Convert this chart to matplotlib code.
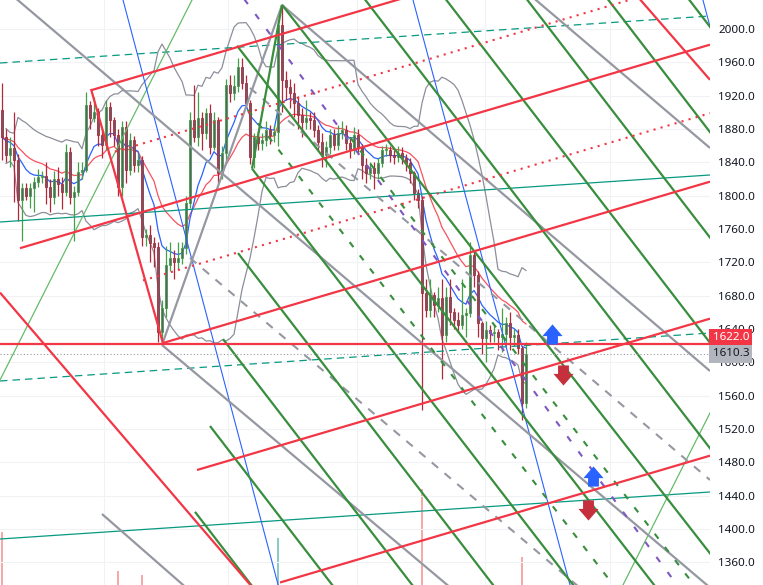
import matplotlib

matplotlib.use("Agg")
import matplotlib.pyplot as plt
import matplotlib.transforms as mtransforms
import numpy as np
import pandas as pd
from matplotlib.path import Path
from matplotlib.patches import Rectangle

# ---- candles (one entry per bar) ----
closes = [
    1870, 1849, 1857, 1843, 1795, 1809, 1800, 1809, 1816, 1822,
    1824, 1810, 1798, 1820, 1814, 1804, 1852, 1798, 1804, 1828,
    1831, 1909, 1893, 1900, 1873, 1861, 1906, 1891, 1873, 1810,
    1882, 1831, 1867, 1837, 1843, 1750, 1753, 1743, 1738, 1636,
    1665, 1717, 1725, 1720, 1725, 1737, 1791, 1891, 1870, 1893,
    1875, 1899, 1858, 1891, 1827, 1851, 1933, 1923, 1932, 1954,
    1935, 1911, 1846, 1870, 1863, 1867, 1879, 1873, 1876, 2005,
    1939, 1930, 1923, 1911, 1897, 1888, 1893, 1891, 1879, 1864,
    1849, 1858, 1873, 1861, 1875, 1879, 1863, 1855, 1873, 1858,
    1837, 1827, 1833, 1827, 1839, 1855, 1855, 1849, 1846, 1851,
    1845, 1839, 1827, 1803, 1795, 1683, 1663, 1681, 1669, 1677,
    1633, 1678, 1660, 1651, 1645, 1657, 1659, 1729, 1705, 1647,
    1629, 1639, 1635, 1636, 1630, 1634, 1647, 1630, 1633, 1617,
    1551, 1610.3,
]
highs = [
    1935, 1880, 1870, 1900, 1850, 1815, 1815, 1815, 1822, 1832,
    1830, 1840, 1820, 1830, 1835, 1822, 1862, 1858, 1812, 1840,
    1840, 1925, 1914, 1918, 1905, 1880, 1915, 1912, 1895, 1880,
    1890, 1890, 1875, 1872, 1850, 1848, 1760, 1765, 1750, 1745,
    1675, 1740, 1745, 1735, 1745, 1745, 1800, 1900, 1933, 1925,
    1900, 1905, 1910, 1900, 1895, 1860, 1940, 1945, 1945, 1965,
    1965, 1945, 1915, 1875, 1878, 1875, 1890, 1885, 1885, 2010,
    2029, 1950, 1940, 1935, 1920, 1905, 1915, 1900, 1900, 1885,
    1875, 1866, 1880, 1880, 1885, 1890, 1885, 1870, 1882, 1880,
    1862, 1845, 1840, 1840, 1845, 1860, 1862, 1860, 1855, 1860,
    1858, 1850, 1845, 1830, 1808, 1800, 1700, 1700, 1685, 1690,
    1700, 1690, 1700, 1665, 1660, 1700, 1665, 1745, 1735, 1710,
    1650, 1650, 1645, 1645, 1640, 1665, 1655, 1660, 1640, 1640,
    1620, 1625,
]
lows = [
    1843, 1840, 1835, 1792, 1770, 1746, 1795, 1785, 1780, 1810,
    1815, 1790, 1780, 1790, 1800, 1784, 1800, 1790, 1746, 1800,
    1820, 1828, 1880, 1888, 1860, 1845, 1855, 1870, 1860, 1800,
    1800, 1815, 1825, 1828, 1828, 1740, 1740, 1720, 1715, 1625,
    1621, 1655, 1710, 1700, 1712, 1718, 1730, 1785, 1865, 1860,
    1855, 1868, 1850, 1855, 1815, 1820, 1840, 1912, 1915, 1925,
    1928, 1905, 1838, 1833, 1855, 1855, 1860, 1862, 1865, 1860,
    1900, 1915, 1905, 1895, 1880, 1870, 1880, 1880, 1870, 1855,
    1835, 1835, 1850, 1855, 1855, 1868, 1855, 1845, 1850, 1850,
    1820, 1815, 1820, 1808, 1820, 1835, 1848, 1840, 1838, 1840,
    1838, 1830, 1815, 1795, 1785, 1543, 1655, 1655, 1655, 1660,
    1580, 1625, 1645, 1640, 1635, 1640, 1630, 1655, 1690, 1630,
    1610, 1600, 1625, 1625, 1615, 1612, 1620, 1615, 1620, 1610,
    1531, 1545,
]
opens = [1903] + closes[:-1]
volumes = [
    98, 30, 22, 35, 38, 30, 18, 20, 22, 16,
    14, 24, 26, 22, 18, 20, 34, 30, 26, 24,
    18, 40, 28, 22, 26, 24, 36, 28, 30, 59,
    38, 34, 26, 24, 20, 55, 22, 24, 26, 44,
    36, 30, 20, 16, 18, 22, 34, 42, 30, 28,
    24, 26, 28, 30, 34, 26, 38, 24, 22, 30,
    28, 26, 36, 30, 20, 18, 22, 20, 18, 92,
    44, 30, 26, 24, 26, 22, 18, 16, 20, 24,
    26, 22, 24, 20, 22, 18, 24, 22, 26, 24,
    28, 26, 20, 22, 20, 24, 18, 20, 18, 16,
    18, 20, 24, 34, 30, 141, 40, 34, 28, 26,
    38, 34, 28, 24, 22, 24, 20, 40, 34, 36,
    30, 26, 20, 18, 18, 24, 22, 24, 20, 30,
    73, 40,
]

# ---- drawing tools: segments as ((bar, price), (bar, price)) ----
red_solid = [
    ((22.25, 1926.5), (177, 2145.6)),
    ((4.5, 1737.0), (177, 1981.2)),
    ((40.25, 1623.2), (177, 1816.8)),
    ((48.75, 1470.8), (177, 1652.4)),
    ((69.5, 1335.8), (177, 1488.0)),
    ((22.25, 1928.0), (40.25, 1623.0)),
    ((-0.5, 1683.7), (62.1, 1332.8)),
    ((150, 2088.0), (177, 1939.0)),
]
red_dotted = [
    ((26.5, 1850.3), (177, 2063.4)),
    ((35.25, 1698.3), (177, 1899.0)),
]
green_solid = [
    ((48.25, 1420.6), (69.05, 1290.8)),
    ((52.0, 1523.6), (89.3, 1290.8)),
    ((55.25, 1627.9), (109.3, 1290.8)),
    ((59.0, 1731.1), (129.5, 1290.8)),
    ((62.5, 1832.4), (149.55, 1290.8)),
    ((58.75, 1980.0), (169.8, 1290.8)),
    ((70.0, 2029.0), (190.0, 1290.8)),
    ((87.0, 2058.8), (210.0, 1290.8)),
    ((107.25, 2058.8), (230.3, 1290.8)),
    ((127.5, 2058.8), (250.5, 1290.8)),
    ((147.75, 2058.8), (270.8, 1290.8)),
    ((168.0, 2058.8), (291.0, 1290.8)),
    ((62.5, 1832.4), (70.0, 2029.0)),
]
green_dashed = [
    ((61.5, 1902.8), (159.55, 1290.8)),
    ((87.0, 1870.0), (179.75, 1290.8)),
]
purple_dashed = [
    ((59.8, 2040.8), (171.55, 1314.8)),
]
grey_solid = [
    ((120, 2089.8), (177, 1857.2)),
    ((70, 2028.8), (177, 1589.6)),
    ((-0.5, 2052.8), (180, 1317.5)),
    ((40, 1620.8), (115, 1318.0)),
    ((25, 1418.0), (50, 1313.0)),
    ((40, 1620.8), (70, 2028.8)),
]
grey_dashed = [
    ((47, 1725.2), (154, 1290.8)),
    ((62, 1929.2), (177, 1458.8)),
]
blue_thin = [
    ((29.5, 2048.4), (69.5, 1324.4)),
    ((102.0, 2048.2), (142.5, 1323.9)),
    ((174.5, 2048.0), (178.0, 1985.0)),
]
lightgreen_thin = [
    ((48.5, 2044.3), (-1.0, 1574.0)),
    ((178.0, 1548.7), (154.0, 1321.0)),
]
teal_solid = [
    ((-0.5, 1768.4), (177, 1824.8)),
    ((-0.5, 1388.0), (177, 1444.4)),
]
teal_dashed = [
    ((-0.5, 1959.2), (177, 2015.6)),
    ((-0.5, 1577.6), (177, 1635.2)),
]
level_price = 1622.0
last_price = 1610.3

# arrows (bar, price)
up_arrows = [(137.4, 1634.6), (147.75, 1463.6)]
down_arrows = [(140.25, 1584.8), (146.5, 1422.8)]

price_ticks = [1360, 1400, 1440, 1480, 1520, 1560, 1600, 1640, 1680,
               1720, 1760, 1800, 1840, 1880, 1920, 1960, 2000]
time_grid = [25.5, 56.5, 88.75, 120.75, 152.0]

RED = "#f23645"
GREEN = "#388e3c"
GREY = "#9598a1"
C_UP = "#43a047"
C_DN = "#b2283a"

fig = plt.figure(figsize=(7.63, 5.85), dpi=100)
fig.patch.set_facecolor("white")
vax = fig.add_axes([0, 0, 710 / 763, 1])
ax = fig.add_axes([0, 0, 710 / 763, 1], sharex=vax)
ax.patch.set_visible(False)

n = len(closes)
idx = np.arange(n)
ax.set_xlim(-0.5, 177)
ax.set_ylim(1332.8, 2034.8)

# grid
for p in price_ticks:
    ax.axhline(p, color="#f0f2f5", lw=0.8, zorder=0)
for t in time_grid:
    ax.axvline(t, color="#f0f2f5", lw=0.8, zorder=0)

# volume (behind)
vol_colors = ["#8ccbc4" if c >= o else "#f7a9a7" for o, c in zip(opens, closes)]
vax.bar(idx, volumes, width=0.6, color=vol_colors)
vax.set_ylim(45, 630)
vax.axis("off")

# indicators
s = pd.Series(closes)
ema_fast = s.ewm(span=9, adjust=False).mean()
ema_slow = s.ewm(span=20, adjust=False).mean()
basis = s.rolling(20, min_periods=2).mean()
dev = s.rolling(20, min_periods=2).std(ddof=0)
ax.plot(idx, basis + 2 * dev, color="#8c8f99", lw=0.9, zorder=2)
ax.plot(idx, basis - 2 * dev, color="#8c8f99", lw=0.9, zorder=2)
ax.plot(idx, ema_slow, color="#f7525f", lw=0.9, zorder=2)
ax.plot(idx, ema_fast, color="#2962ff", lw=0.9, zorder=2)

# candles
for i in range(n):
    o, h, l, c = opens[i], highs[i], lows[i], closes[i]
    col = C_UP if c >= o else C_DN
    ax.vlines(i, l, h, color=col, lw=0.9, zorder=3)
    lo, hi = min(o, c), max(o, c)
    ax.add_patch(Rectangle((i - 0.33, lo), 0.66, max(hi - lo, 1.0),
                           facecolor="#5d606b", edgecolor=col, lw=0.6, zorder=3.1))


def draw(segs, **kw):
    for (x0, y0), (x1, y1) in segs:
        ax.plot([x0, x1], [y0, y1], solid_capstyle="butt", **kw)


draw(teal_solid, color="#089981", lw=0.9, zorder=4)
draw(teal_dashed, color="#089981", lw=0.9, ls=(0, (6, 4)), zorder=4)
draw(lightgreen_thin, color="#66bb6a", lw=0.9, zorder=4)
draw(blue_thin, color="#2962ff", lw=0.8, zorder=4)
draw(grey_dashed, color=GREY, lw=1.5, ls=(0, (4, 4)), zorder=4)
draw(grey_solid, color=GREY, lw=1.6, zorder=4)
draw(green_dashed, color=GREEN, lw=1.5, ls=(0, (3, 5)), zorder=4)
draw(green_solid, color=GREEN, lw=1.6, zorder=4)
draw(purple_dashed, color="#7e57c2", lw=1.5, ls=(0, (3, 6)), zorder=4)
draw(red_dotted, color=RED, lw=1.5, ls=(0, (1, 2.5)), zorder=4)
draw(red_solid, color=RED, lw=1.6, zorder=4)

ax.axhline(level_price, color=RED, lw=1.6, zorder=4)
ax.axhline(last_price, color="#9598a1", lw=0.8, ls=(0, (1, 2)), zorder=4)

# arrows
up_path = Path([(0, 0.5), (0.5, -0.08), (0.27, -0.08), (0.27, -0.5),
                (-0.27, -0.5), (-0.27, -0.08), (-0.5, -0.08), (0, 0.5)])
down_path = Path([(x, -y) for x, y in up_path.vertices])
for bx, py in up_arrows:
    ax.plot(bx, py, marker=up_path, ms=14.5, color="#2962ff", mec="none", zorder=6)
for bx, py in down_arrows:
    ax.plot(bx, py, marker=down_path, ms=14.5, color="#c62f3c", mec="none", zorder=6)

# price scale
for sp in ax.spines.values():
    sp.set_visible(False)
ax.set_xticks([])
ax.yaxis.tick_right()
ax.set_yticks(price_ticks)
ax.set_yticklabels([f"{p:.1f}" for p in price_ticks])
ax.tick_params(axis="y", length=0, pad=6, labelsize=8.4, labelcolor="#131722")
for lab in ax.get_yticklabels():
    lab.set_fontfamily("Noto Sans")

trans = mtransforms.blended_transform_factory(fig.transFigure, ax.transData)
ax.text(712.5 / 763, 1630.0, f"{level_price:.1f}", transform=trans, ha="left", va="center",
        fontsize=8.4, family="Noto Sans", color="white", clip_on=False, zorder=10,
        bbox=dict(boxstyle="square,pad=0.28", facecolor=RED, edgecolor="none"))
ax.text(712.5 / 763, last_price, f"{last_price:.1f}", transform=trans, ha="left", va="center",
        fontsize=8.4, family="Noto Sans", color="#131722", clip_on=False, zorder=10,
        bbox=dict(boxstyle="square,pad=0.28", facecolor="#b2b5be", edgecolor="none"))

fig.savefig("out.png", dpi=100, facecolor="white")
plt.close(fig)
